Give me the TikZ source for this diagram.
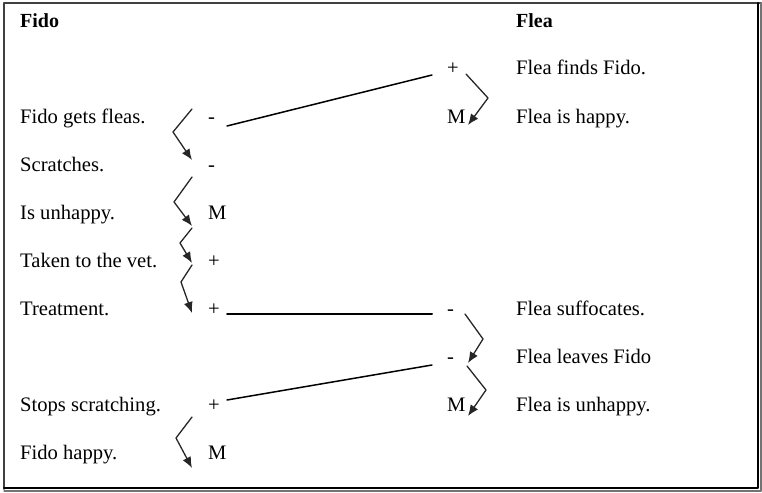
\documentclass[tikz,border=0pt]{standalone}
\usepackage{fontspec}
\setmainfont{Liberation Serif}
\usetikzlibrary{arrows.meta}

\begin{document}
\begin{tikzpicture}[x=1pt,y=-1pt,line cap=round,line join=round,
  every node/.style={inner sep=0pt,anchor=west,text height=14pt,text depth=0pt,font=\fontsize{20.6}{24}\selectfont},
  zz/.style={line width=1.3pt,black!85,-{Latex[length=11pt,width=9pt]}},
  link/.style={line width=1.5pt}]
  \useasboundingbox (0,0) rectangle (762,492);
  % frame
  \draw[line width=1.6pt,black!75] (4,489) -- (4,3) -- (761,3);
  \draw[line width=2pt] (758,3) -- (758,488) -- (4,488);
  \draw[line width=1.2pt,black!55] (761,3) -- (761,491) -- (4,491);
  \def\lx{20}
  \def\ls{208}
  \def\rs{447}
  \def\rx{516}
  \node[font=\fontsize{20}{24}\selectfont\bfseries] (fido) at (\lx,21) {Fido};
  \node[font=\fontsize{20}{24}\selectfont\bfseries] (flea) at (\rx,21) {Flea};
  % left column
  \foreach \n/\y/\s/\t in {1/116/-/Fido gets fleas.,2/164/-/Scratches.,3/212/M/Is unhappy.,
    4/260/+/Taken to the vet.,5/308/+/Treatment.,6/404/+/Stops scratching.,7/452/M/Fido happy.} {
    \node (fl\n) at (\lx,\y) {\t};
    \node (ls\n) at (\ls,\y) {\s};
  }
  % right column
  \foreach \n/\y/\s/\t in {1/68/+/Flea finds Fido.,2/116/M/Flea is happy.,3/308/-/Flea suffocates.,
    4/356/-/Flea leaves Fido,5/404/M/Flea is unhappy.} {
    \node (fr\n) at (\rx,\y) {\t};
    \node (rs\n) at (\rs,\y) {\s};
  }
  % links between the two
  \draw[link] ([xshift=19pt,yshift=-10pt]ls1.west) -- ([xshift=-15pt,yshift=-7pt]rs1.west);
  \draw[line width=2pt] ([xshift=19pt,yshift=-6pt]ls5.west) -- ([xshift=-15pt,yshift=-6pt]rs3.west);
  \draw[link] ([xshift=19pt,yshift=4pt]ls6.west) -- ([xshift=-15pt,yshift=-9pt]rs4.west);
  % zigzags, left
  \draw[zz] ([xshift=-16pt,yshift=7pt]ls1.west) -- ++(-19,23) -- ([xshift=-16pt,yshift=4pt]ls2.west);
  \draw[zz] ([xshift=-16pt,yshift=-13pt]ls2.west) -- ++(-18,25) -- ([xshift=-16pt,yshift=-14pt]ls3.west);
  \draw[zz] ([xshift=-16pt,yshift=-16pt]ls3.west) -- ++(-12,15) -- ([xshift=-16pt,yshift=-3pt]ls4.west);
  \draw[zz] ([xshift=-16pt,yshift=-5pt]ls4.west) -- ++(-11,17) -- ([xshift=-16pt,yshift=-5pt]ls5.west);
  \draw[zz] ([xshift=-16pt,yshift=-13pt]ls6.west) -- ++(-16,21) -- ([xshift=-16pt,yshift=-16pt]ls7.west);
  % zigzags, right
  \draw[zz] ([xshift=19pt,yshift=-6pt]rs1.west) -- ++(22,24) -- ([xshift=21pt,yshift=-9pt]rs2.west);
  \draw[zz] ([xshift=18pt,yshift=-6pt]rs3.west) -- ++(18,25) -- ([xshift=21pt,yshift=-7pt]rs4.west);
  \draw[zz] ([xshift=20pt,yshift=-10pt]rs4.west) -- ++(19,24) -- ([xshift=21pt,yshift=-12pt]rs5.west);
\end{tikzpicture}
\end{document}
